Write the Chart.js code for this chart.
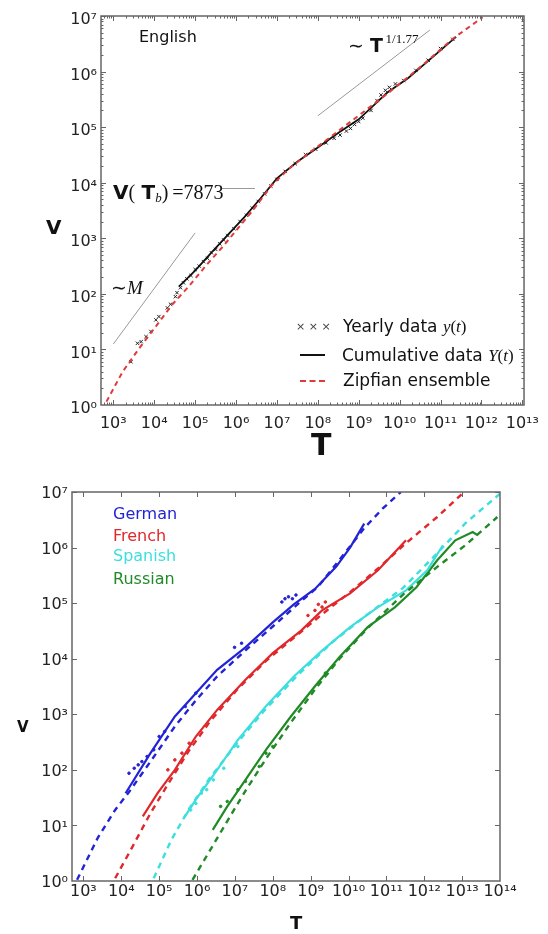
<!DOCTYPE html>
<html>
<head>
<meta charset="utf-8">
<script src="https://cdn.jsdelivr.net/npm/chart.js@4.4.1/dist/chart.umd.min.js"></script>
<style>
  body { margin: 0; background: #fff; }
  #page { position: relative; width: 548px; height: 934px; font-family: "DejaVu Sans", sans-serif; color: #111; }
  #page canvas { position: absolute; left: 0; }
  .lbl { position: absolute; white-space: nowrap; line-height: 1; }
  .b { font-weight: bold; }
  .serif { font-family: "Liberation Serif", serif; }
  .it { font-style: italic; }
  .swatch { position: absolute; width: 25px; height: 0; }
</style>
</head>
<body>
<div id="page">
  <canvas id="engChart" width="548" height="460" style="top:0"></canvas>
  <canvas id="langChart" width="548" height="474" style="top:460px"></canvas>

  <!-- English panel text -->
  <div class="lbl" style="left:139px;top:29px;font-size:16px">English</div>
  <div class="lbl b" style="left:46px;top:217px;font-size:20px">V</div>
  <div class="lbl b" style="left:311px;top:430px;font-size:30px">T</div>
  <div class="lbl" style="left:113px;top:182px;font-size:20px">
    <span class="b">V</span><span class="serif">(</span>&nbsp;<span class="b">T</span><span class="serif it" style="font-size:13px;position:relative;top:3px">b</span><span class="serif">)&thinsp;=7873</span>
  </div>
  <div class="lbl serif" style="left:111px;top:278px;font-size:19px">&sim;<span class="it">M</span></div>
  <div class="lbl" style="left:348px;top:36px;font-size:19px">
    <span class="serif">&sim;</span>&nbsp;<span class="b">T</span><span class="serif" style="font-size:13px;position:relative;top:-9px">&thinsp;1/1.77</span>
  </div>

  <!-- English legend -->
  <div class="lbl" style="left:296px;top:321px;font-size:11px;color:#444">&times; &times; &times;</div>
  <div class="lbl" style="left:343px;top:318px;font-size:17px">Yearly data <span class="serif it">y</span><span class="serif">(</span><span class="serif it">t</span><span class="serif">)</span></div>
  <div class="swatch" style="left:300px;top:354px;border-top:2px solid #111"></div>
  <div class="lbl" style="left:342px;top:347px;font-size:17px">Cumulative data <span class="serif it">Y</span><span class="serif">(</span><span class="serif it">t</span><span class="serif">)</span></div>
  <div class="swatch" style="left:300px;top:380px;border-top:2px dashed #e03a3a"></div>
  <div class="lbl" style="left:343px;top:372px;font-size:17px">Zipfian ensemble</div>

  <!-- language panel text -->
  <div class="lbl b" style="left:17px;top:720px;font-size:15px">V</div>
  <div class="lbl b" style="left:290px;top:914px;font-size:18px">T</div>
  <div class="lbl" style="left:113px;top:506px;font-size:16px;color:#2323d6">German</div>
  <div class="lbl" style="left:113px;top:528px;font-size:16px;color:#e0282c">French</div>
  <div class="lbl" style="left:113px;top:548px;font-size:16px;color:#3cdede">Spanish</div>
  <div class="lbl" style="left:113px;top:571px;font-size:16px;color:#1f8a26">Russian</div>
</div>

<script>
// axis ticks (powers of ten)
const engTicksT = [1e3, 1e4, 1e5, 1e6, 1e7, 1e8, 1e9, 1e10, 1e11, 1e12, 1e13];
const langTicksT = [1e3, 1e4, 1e5, 1e6, 1e7, 1e8, 1e9, 1e10, 1e11, 1e12, 1e13, 1e14];
const ticksV = [1, 10, 100, 1e3, 1e4, 1e5, 1e6, 1e7];

// English: Zipfian ensemble
const engZipfT = [6.8e2, 1.7e3, 4.3e3, 1.1e4, 2.8e4, 7.1e4, 1.8e5, 4.5e5, 1.15e6, 2.9e6, 7.2e6, 2.0e7, 6.3e7, 1.7e8, 5.0e8, 1.6e9, 5.0e9, 1.8e10, 5.5e10, 2.0e11, 1.07e12];
const engZipfV = [1.15, 4.0, 10.5, 26, 65, 138, 316, 676, 1550, 3550, 8700, 1.8e4, 3.5e4, 6.0e4, 1.1e5, 2.1e5, 4.0e5, 8.5e5, 1.7e6, 3.9e6, 9.5e6];

// English: cumulative data Y(t)
const engCumT = [4.0e4, 1.0e5, 2.5e5, 6.3e5, 1.6e6, 4.0e6, 1.0e7, 3.2e7, 1.0e8, 3.2e8, 1.0e9, 2.5e9, 5.0e9, 1.6e10, 6.3e10, 2.4e11];
const engCumV = [135, 263, 550, 1150, 2400, 5250, 1.2e4, 2.4e4, 4.3e4, 7.9e4, 1.38e5, 2.6e5, 4.2e5, 7.6e5, 1.8e6, 4.2e6];

// English: yearly data y(t)
const engYearT = [2.7e3, 3.9e3, 4.8e3, 6.3e3, 8.3e3, 1.1e4, 1.3e4, 2.1e4, 2.5e4, 3.3e4, 3.6e4, 4.4e4, 5.2e4, 6.3e4, 7.9e4, 1.0e5, 1.26e5, 1.6e5, 2.0e5, 2.5e5, 3.2e5, 4.0e5, 5.0e5, 6.3e5, 8.9e5, 1.26e6, 1.8e6, 2.5e6, 3.5e6, 5.0e6, 7.1e6, 1.0e7, 1.6e7, 2.8e7, 5.0e7, 8.9e7, 1.6e8, 2.5e8, 3.5e8, 5.0e8, 6.3e8, 7.9e8, 1.0e9, 1.26e9, 2.0e9, 2.8e9, 3.5e9, 4.5e9, 5.6e9, 7.9e9, 1.26e10, 2.5e10, 5.0e10, 1.0e11, 2.0e11];
const engYearV = [6.0, 12.9, 13.8, 17, 21, 34, 39, 56, 65, 89, 105, 129, 158, 186, 214, 275, 316, 380, 437, 550, 630, 794, 933, 1120, 1480, 2000, 2600, 3500, 4600, 6300, 8700, 11500, 16000, 22000, 32000, 40000, 52000, 63000, 72000, 85000, 95000, 112000, 126000, 145000, 200000, 300000, 380000, 460000, 520000, 600000, 690000, 1050000, 1600000, 2600000, 3800000];

// English: guide lines
const guideLinearT = [1e3, 1e5];
const guideLinearV = [12.5, 1250];
const guidePowerT = [1e8, 5.5e10];
const guidePowerV = [1.6e5, 5.6e6];
const breakT = [4.5e5, 2.9e6];
const breakV = [7873, 7873];

// other languages: Zipfian fit (dashed), cumulative data (solid), yearly data (dots)
const germanFitT = [6.8e2, 2.4e3, 6.9e3, 1.6e4, 5.9e4, 2.6e5, 9.3e5, 3.4e6, 1.9e7, 1.0e8, 4.5e8, 1.6e9, 7.9e9, 2.6e10, 7.9e10, 2.4e11];
const germanFitV = [1.05, 6.0, 19, 40, 141, 603, 1780, 4800, 1.41e4, 3.8e4, 9.5e4, 2.0e5, 7.9e5, 2.24e6, 5.0e6, 1.0e7];
const germanCumT = [1.3e4, 5.9e4, 2.6e5, 9.3e5, 3.4e6, 1.9e7, 1.0e8, 3.6e8, 1.3e9, 4.7e9, 1.1e10, 2.6e10];
const germanCumV = [38, 200, 912, 2400, 6300, 1.6e4, 4.5e4, 9.5e4, 1.8e5, 4.5e5, 1.0e6, 2.7e6];
const germanYearT = [1.6e4, 2.2e4, 2.8e4, 3.5e4, 4.8e4, 7.2e4, 1.0e5, 1.4e5, 4.9e5, 9.3e5, 9.8e6, 1.5e7, 1.74e8, 2.1e8, 2.6e8, 3.3e8, 4.1e8];
const germanYearV = [87, 107, 123, 141, 174, 229, 398, 490, 1380, 2400, 1.6e4, 1.9e4, 1.05e5, 1.2e5, 1.3e5, 1.2e5, 1.4e5];

const frenchFitT = [6.9e3, 2.0e4, 5.9e4, 1.7e5, 6.2e5, 2.2e6, 1.2e7, 6.6e7, 4.5e8, 2.0e9, 1.1e10, 6.0e10, 3.3e11, 2.2e12, 1.0e13];
const frenchFitV = [1.12, 4.2, 16.6, 55, 224, 741, 2880, 9100, 2.7e4, 6.3e4, 1.58e5, 4.2e5, 1.2e6, 3.55e6, 9.3e6];
const frenchCumT = [3.7e4, 9.1e4, 2.6e5, 9.3e5, 3.4e6, 1.9e7, 1.0e8, 5.6e8, 2.0e9, 1.1e10, 6.0e10, 3.3e11];
const frenchCumV = [14.5, 38, 100, 398, 1200, 4200, 1.26e4, 3.2e4, 7.4e4, 1.5e5, 3.9e5, 1.35e6];
const frenchYearT = [1.7e5, 2.6e5, 4.0e5, 6.2e5, 8.5e8, 1.3e9, 1.6e9, 2.0e9, 2.45e9];
const frenchYearV = [100, 151, 200, 302, 6.0e4, 7.4e4, 9.5e4, 8.5e4, 1.05e5];

const spanishFitT = [7.2e4, 2.1e5, 6.2e5, 2.2e6, 1.2e7, 6.6e7, 4.5e8, 3.8e9, 3.2e10, 2.7e11, 2.2e12, 1.26e13, 1.0e14];
const spanishFitV = [1.12, 5.5, 20, 72, 316, 1260, 5000, 2.0e4, 6.3e4, 1.86e5, 7.9e5, 2.8e6, 9.3e6];
const spanishCumT = [4.5e5, 9.3e5, 3.4e6, 1.2e7, 6.6e7, 3.6e8, 2.0e9, 1.1e10, 6.0e10, 3.3e11, 1.2e12, 3.1e12];
const spanishCumV = [13.5, 29, 100, 347, 1400, 4800, 1.4e4, 3.7e4, 8.5e4, 1.7e5, 3.9e5, 1.1e6];
const spanishYearT = [6.8e5, 9.3e5, 1.3e6, 1.8e6, 2.7e6, 5.1e6, 1.2e7];
const spanishYearV = [19, 25, 38, 44, 66, 107, 263];

const russianFitT = [7.6e5, 2.2e6, 6.3e6, 1.9e7, 6.6e7, 3.0e8, 1.3e9, 5.8e9, 3.2e10, 2.7e11, 2.2e12, 1.26e13, 8.5e13];
const russianFitV = [1.05, 3.55, 12, 42, 158, 708, 2800, 1.0e4, 3.55e4, 1.41e5, 4.5e5, 1.12e6, 3.55e6];
const russianCumT = [2.6e6, 6.3e6, 1.9e7, 6.6e7, 3.0e8, 1.3e9, 5.8e9, 3.2e10, 1.7e11, 6.3e11, 2.2e12, 6.6e12, 1.9e13, 2.6e13];
const russianCumV = [8.3, 22, 66, 229, 912, 3200, 1.07e4, 3.7e4, 8.5e4, 1.95e5, 5.9e5, 1.35e6, 1.9e6, 1.66e6];
const russianYearT = [4.2e6, 6.3e6, 1.2e7, 1.9e7, 4.4e7, 6.6e7, 1.0e8, 2.45e9];
const russianYearV = [22, 27, 44, 62, 115, 200, 263, 5500];

const langColors = ['#2323d6', '#e0282c', '#3cdede', '#1f8a26'];

const SUP = { '0': '\u2070', '1': '\u00b9', '2': '\u00b2', '3': '\u00b3', '4': '\u2074', '5': '\u2075', '6': '\u2076', '7': '\u2077', '8': '\u2078', '9': '\u2079' };

function pow10Label(v) {
    const e = Math.round(Math.log10(v));
    return '10' + String(e).split('').map(c => SUP[c]).join('');
}

function pts(T, V) {
    return T.map((t, i) => ({ x: t, y: V[i] }));
}

// frame plus inward tick marks on all four sides
const boxTicks = {
    id: 'boxTicks',
    afterDraw(chart, args, opts) {
        const { ctx, chartArea: a } = chart;
        const sx = chart.scales.x, sy = chart.scales.y;
        ctx.save();
        ctx.strokeStyle = '#666';
        ctx.lineWidth = 1;

        const xMark = (v, len) => {
            const p = Math.round(sx.getPixelForValue(v)) + 0.5;
            if (p < a.left || p > a.right) return;
            ctx.beginPath();
            ctx.moveTo(p, a.bottom); ctx.lineTo(p, a.bottom - len);
            ctx.moveTo(p, a.top); ctx.lineTo(p, a.top + len);
            ctx.stroke();
        };
        const yMark = (v, len) => {
            const p = Math.round(sy.getPixelForValue(v)) + 0.5;
            if (p < a.top || p > a.bottom) return;
            ctx.beginPath();
            ctx.moveTo(a.left, p); ctx.lineTo(a.left + len, p);
            ctx.moveTo(a.right, p); ctx.lineTo(a.right - len, p);
            ctx.stroke();
        };

        sx.ticks.forEach(t => xMark(t.value, 5));
        sy.ticks.forEach(t => yMark(t.value, 5));
        if (opts.minor) {
            for (let d = 0; d <= 13; d++) {
                for (let k = 2; k <= 9; k++) {
                    const v = k * Math.pow(10, d);
                    if (v > sx.min && v < sx.max) xMark(v, 2.5);
                    if (v > sy.min && v < sy.max) yMark(v, 2.5);
                }
            }
        }

        ctx.lineWidth = 1.5;
        ctx.strokeRect(a.left, a.top, a.width, a.height);
        ctx.restore();
    }
};

function logAxis(min, max, ticks, size, pad, isY, labelOffset) {
    return {
        type: 'logarithmic',
        min: min,
        max: max,
        grid: { display: false, drawTicks: false },
        border: { display: false },
        afterBuildTicks: (scale) => { scale.ticks = ticks.map(v => ({ value: v })); },
        afterFit: (scale) => { if (isY) scale.width = size; else scale.height = size; },
        ticks: {
            autoSkip: false,
            minRotation: 0,
            maxRotation: 0,
            padding: pad,
            labelOffset: labelOffset || 0,
            color: '#222',
            font: { family: 'DejaVu Sans', size: 16 },
            callback: (v) => pow10Label(v)
        }
    };
}

function lineSet(T, V, color, width, dash, order) {
    return {
        data: pts(T, V),
        showLine: true,
        borderColor: color,
        borderWidth: width,
        borderDash: dash,
        pointRadius: 0,
        fill: false,
        order: order
    };
}

function dotSet(T, V, color, style, radius, order) {
    return {
        data: pts(T, V),
        pointStyle: style,
        pointRadius: radius,
        borderColor: color,
        backgroundColor: color,
        borderWidth: 1,
        order: order
    };
}

new Chart(document.getElementById('engChart'), {
    type: 'scatter',
    data: {
        datasets: [
            lineSet(engZipfT, engZipfV, '#e03a3a', 2, [5, 4], 0),
            lineSet(engCumT, engCumV, '#111', 1.8, [], 1),
            dotSet(engYearT, engYearV, '#222', 'crossRot', 2.4, 2),
            lineSet(guideLinearT, guideLinearV, '#999', 1, [], 3),
            lineSet(guidePowerT, guidePowerV, '#999', 1, [], 3),
            lineSet(breakT, breakV, '#999', 1, [], 3)
        ]
    },
    options: {
        responsive: false,
        animation: false,
        events: [],
        layout: { padding: { top: 16, right: 19, left: 0, bottom: 0 } },
        plugins: { legend: { display: false }, tooltip: { enabled: false }, boxTicks: { minor: true } },
        scales: {
            x: logAxis(500, 1.1e13, engTicksT, 55, 9, false),
            y: logAxis(1, 1e7, ticksV, 101, 4, true, 4)
        }
    },
    plugins: [boxTicks]
});

const langSeries = [
    [germanFitT, germanFitV, germanCumT, germanCumV, germanYearT, germanYearV],
    [frenchFitT, frenchFitV, frenchCumT, frenchCumV, frenchYearT, frenchYearV],
    [spanishFitT, spanishFitV, spanishCumT, spanishCumV, spanishYearT, spanishYearV],
    [russianFitT, russianFitV, russianCumT, russianCumV, russianYearT, russianYearV]
];
const langSets = [];
langSeries.forEach((s, i) => {
    langSets.push(lineSet(s[0], s[1], langColors[i], 2.4, [6, 5], 0));
    langSets.push(lineSet(s[2], s[3], langColors[i], 2.2, [], 1));
    langSets.push(dotSet(s[4], s[5], langColors[i], 'circle', 1.3, 2));
});

new Chart(document.getElementById('langChart'), {
    type: 'scatter',
    data: { datasets: langSets },
    options: {
        responsive: false,
        animation: false,
        events: [],
        layout: { padding: { top: 32, right: 48, left: 0, bottom: 0 } },
        plugins: { legend: { display: false }, tooltip: { enabled: false }, boxTicks: { minor: false } },
        scales: {
            x: logAxis(500, 1e14, langTicksT, 53, 1, false),
            y: logAxis(1, 1e7, ticksV, 72, 4, true, 2)
        }
    },
    plugins: [boxTicks]
});
</script>
</body>
</html>
